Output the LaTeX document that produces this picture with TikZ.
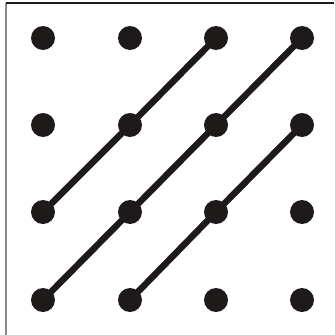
\documentclass[tikz,border=0pt]{standalone}
\usetikzlibrary{positioning}
\definecolor{dpInk}{HTML}{1E1A1A}
\definecolor{dpFrame}{HTML}{8A8A8A}
\tikzset{
  dp dot/.style={circle, fill=dpInk, inner sep=0pt, minimum size=24*0.03cm},
  dp link/.style={draw=dpInk, line width=6.5*0.03cm, line cap=round},
  dp frame/.style={draw=dpFrame, line width=1.6*0.03cm}
}
\begin{document}
\begin{tikzpicture}[x=0.03cm,y=-0.03cm]
  \useasboundingbox (0,0) rectangle (334,335);
  \draw[dp frame] (6,335) -- (6,3);
  \draw[dp frame, draw=dpInk] (6,3) -- (334,3);

  % grid of dots, row r and column c
  \foreach \c/\x in {1/43,2/130,3/216,4/302} {
    \foreach \r/\y in {1/38,2/125,3/212,4/300} {
      \node[dp dot] (d\r\c) at (\x,\y) {};
    }
  }

  \draw[dp link] (d31) -- (d22) -- (d13);
  \draw[dp link] (d41) -- (d32) -- (d23) -- (d14);
  \draw[dp link] (d42) -- (d33) -- (d24);
\end{tikzpicture}
\end{document}
